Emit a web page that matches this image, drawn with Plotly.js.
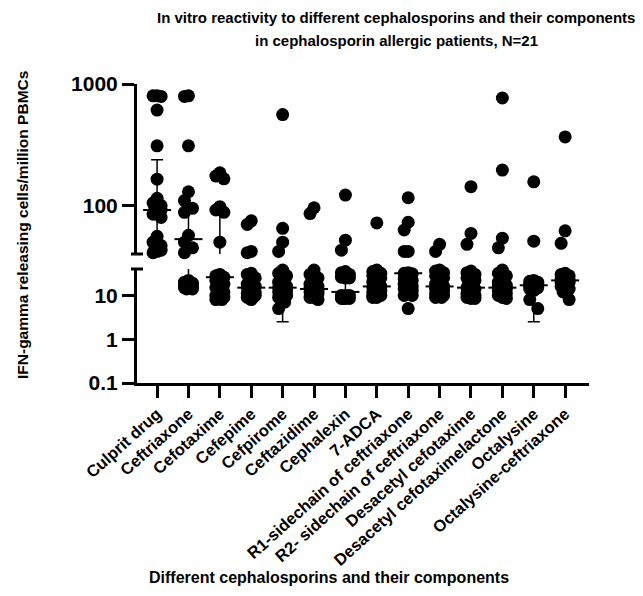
<!DOCTYPE html>
<html><head><meta charset="utf-8">
<script src="https://cdn.plot.ly/plotly-3.0.1.min.js"></script>
<style>html,body{margin:0;padding:0;background:#fff}#chart{width:643px;height:596px}</style>
</head><body><div id="chart"></div>
<script>
// ---------- data ----------
const categories = ["Culprit drug","Ceftriaxone","Cefotaxime","Cefepime","Cefpirome","Ceftazidime","Cephalexin","7-ADCA","R1-sidechain of ceftriaxone","R2- sidechain of ceftriaxone","Desacetyl cefotaxime","Desacetyl cefotaximelactone","Octalysine","Octalysine-ceftriaxone"];
const culpritDrug = [800,800,790,610,310,165,115,105,100,95,92,88,85,80,56,50,47,45,43,42,41];
const ceftriaxone = [800,790,310,130,110,95,88,57,50,45,41,22,20,19,18,17,16,15,15,14,14];
const cefotaxime = [186,175,166,98,92,88,50,30,28,26,25,22,18,15,12,10,10,9,9,8,8];
const cefepime = [75,70,42,41,32,30,25,22,20,18,17,16,15,14,12,11,10,10,9,9,8];
const cefpirome = [560,65,50,42,38,32,28,25,22,20,18,16,15,14,13,12,11,10,9,7,5];
const ceftazidime = [96,86,38,30,25,22,20,18,17,16,15,14,13,12,12,11,10,10,9,9,8];
const cephalexin = [122,52,43,35,33,30,28,26,25,25,10,10,10,9,9,9,9,8.5,8.5,8.5,8.5];
const adca7 = [72,38,35,32,30,28,25,22,20,20,18,16,15,14,13,12,11,10,10,9,9];
const r1Sidechain = [116,73,63,42,42,33,32,31,25,24,22,20,18,16,15,14,13,12,10,10,5];
const r2Sidechain = [48,42,38,36,33,30,28,25,22,20,18,16,15,14,13,12,11,10,10,9,9];
const desacetylCefotaxime = [143,59,48,36,33,30,28,25,22,20,18,15,14,12,11,10,10,9,9,8.5,8.5];
const desacetylLactone = [767,196,54,45,38,32,28,25,22,20,18,17,16,15,14,13,12,11,10,9,8.5];
const octalysine = [157,51,22,21,20,20,20,19,18,18,17,16,16,15,15,15,14,14,13,8,5];
const octalysineCeftriaxone = [367,62,49,32,30,28,27,25,25,24,23,22,22,21,20,20,18,16,14,12,8];
const seriesValues = [culpritDrug,ceftriaxone,cefotaxime,cefepime,cefpirome,ceftazidime,cephalexin,adca7,r1Sidechain,r2Sidechain,desacetylCefotaxime,desacetylLactone,octalysine,octalysineCeftriaxone];
// median line and error bar ends
const medians = [92,53,26,15,15,14,12,16,32,16,15,15,17,22];
const barLow  = [45,18,10,10,2.5,10,9,11.5,13,10.5,10,11,2.5,12.5];
const barHigh = [238,100,90,30,30,22,30,28,38,28,28,25,20,27];
const lowerTicks = [0.1,1,10], lowerTickText = ["0.1","1","10"];
const upperTicks = [100,1000], upperTickText = ["100","1000"];
const titleLines = ["In vitro reactivity to different cephalosporins and their components","in cephalosporin allergic patients, N=21"];
const yTitle = "IFN-gamma releasing cells/million PBMCs";
const xTitle = "Different cephalosporins and their components";
const BREAK = 40;

// ---------- layout geometry ----------
const W=643, H=596, M={l:137,r:54,t:84,b:213};
const plotW=W-M.l-M.r, plotH=H-M.t-M.b;
const xRange=[-0.64,13.76];
const pxPerCat=plotW/(xRange[1]-xRange[0]);
const lowDomain=[0,114/plotH], upDomain=[129/plotH,1];
const lowRange=[-1,Math.log10(BREAK)], upRange=[Math.log10(BREAK),3];
const DOT=13;
function yPx(v,seg){
  const r=seg==='up'?upRange:lowRange, d=seg==='up'?upDomain:lowDomain;
  const f=(Math.log10(v)-r[0])/(r[1]-r[0]);
  return (d[1]-d[0])*plotH*f;
}
// deterministic spread of overlapping dots (scatter dot plot)
function spread(vals,seg){
  const order=vals.map((v,i)=>i).sort((a,b)=>vals[b]-vals[a]);
  const placed=[], offs=new Array(vals.length).fill(0);
  const cand=[0,-4,4,-2,2];
  order.forEach(i=>{
    const y=yPx(vals[i],seg);
    let best=0,bestD=-1;
    for(const c of cand){
      let md=Infinity;
      placed.forEach(p=>{md=Math.min(md,Math.hypot(p.x-c,p.y-y));});
      if(md>=DOT){best=c;bestD=md;break;}
      if(md>bestD){bestD=md;best=c;}
    }
    placed.push({x:best,y:y});offs[i]=best;
  });
  return offs;
}
const segs={low:{x:[],y:[]},up:{x:[],y:[]}};
seriesValues.forEach((vals,ci)=>{
  ['low','up'].forEach(seg=>{
    const sub=vals.filter(v=>seg==='up'?v>=BREAK:v<BREAK);
    const offs=spread(sub,seg);
    sub.forEach((v,k)=>{segs[seg].x.push(ci+offs[k]/pxPerCat);segs[seg].y.push(v);});
  });
});
const idx=categories.map((c,i)=>i);
const dotMarker={size:DOT,color:'#000',line:{width:0}};
function errTrace(yax){
  return {x:idx,y:medians,yaxis:yax,type:'scatter',mode:'markers',cliponaxis:true,hoverinfo:'skip',
    marker:{symbol:'line-ew',size:20,line:{width:2,color:'#000'},color:'#000'},
    error_y:{type:'data',symmetric:false,array:medians.map((m,i)=>barHigh[i]-m),arrayminus:medians.map((m,i)=>m-barLow[i]),color:'#000',thickness:1.5,width:6}};
}
const traces=[
  errTrace('y'),errTrace('y2'),
  {x:segs.low.x,y:segs.low.y,yaxis:'y',type:'scatter',mode:'markers',marker:dotMarker,cliponaxis:false},
  {x:segs.up.x,y:segs.up.y,yaxis:'y2',type:'scatter',mode:'markers',marker:dotMarker,cliponaxis:false}
];
const F='"Liberation Sans", Arial, sans-serif';
const bold=(s)=>({family:F,size:s,weight:'bold',color:'#000'});
const axCommon={showline:true,linewidth:3,linecolor:'#000',ticks:'outside',ticklen:12,tickwidth:3,tickcolor:'#000',showgrid:false,zeroline:false,fixedrange:true};
const pxX=(px)=>(px-M.l)/plotW, pxY=(py)=>(H-M.b-py)/plotH;
const layout={
  width:W,height:H,margin:M,paper_bgcolor:'#fff',plot_bgcolor:'#fff',showlegend:false,
  xaxis:Object.assign({},axCommon,{range:xRange,tickmode:'array',tickvals:idx,ticktext:categories,tickangle:-42,anchor:'y',tickfont:bold(16.5)}),
  yaxis:Object.assign({},axCommon,{type:'log',range:lowRange,domain:lowDomain,tickmode:'array',tickvals:lowerTicks,ticktext:lowerTickText,tickfont:bold(21)}),
  yaxis2:Object.assign({},axCommon,{type:'log',range:upRange,domain:upDomain,anchor:'x',tickmode:'array',tickvals:upperTicks,ticktext:upperTickText,tickfont:bold(21)}),
  shapes:[
    {type:'line',xref:'paper',yref:'paper',x0:-6/plotW,x1:6/plotW,y0:upDomain[0],y1:upDomain[0],line:{color:'#000',width:3}},
    {type:'line',xref:'paper',yref:'paper',x0:-6/plotW,x1:6/plotW,y0:lowDomain[1],y1:lowDomain[1],line:{color:'#000',width:3}}
  ],
  annotations:[
    {text:titleLines[0],xref:'paper',yref:'paper',x:pxX(396),y:pxY(18),showarrow:false,xanchor:'center',yanchor:'middle',font:bold(15)},
    {text:titleLines[1],xref:'paper',yref:'paper',x:pxX(396),y:pxY(40),showarrow:false,xanchor:'center',yanchor:'middle',font:bold(15)},
    {text:yTitle,xref:'paper',yref:'paper',x:pxX(22),y:pxY(225),textangle:-90,showarrow:false,xanchor:'center',yanchor:'middle',font:bold(15.5)},
    {text:xTitle,xref:'paper',yref:'paper',x:pxX(329),y:pxY(577),showarrow:false,xanchor:'center',yanchor:'middle',font:bold(16)}
  ]
};
Plotly.newPlot('chart',traces,layout,{staticPlot:true,displayModeBar:false});
</script></body></html>
